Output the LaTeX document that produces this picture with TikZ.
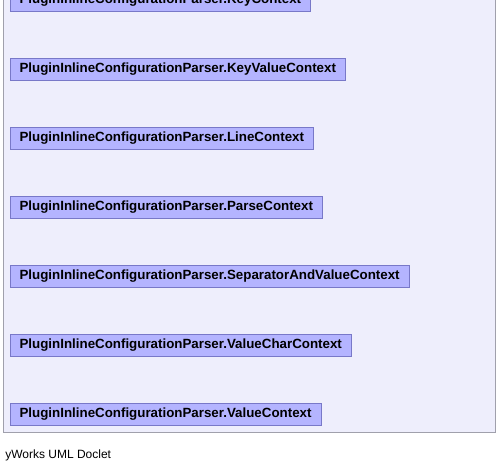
\documentclass[tikz,border=0pt]{standalone}
\usepackage{fontspec}
\setmainfont{Liberation Sans}
\usepackage{tikz}
\usetikzlibrary{calc}

\definecolor{panelfill}{RGB}{238,238,252}
\definecolor{panelline}{RGB}{160,160,172}
\definecolor{boxfill}{RGB}{180,180,255}
\definecolor{boxline}{RGB}{120,120,200}

\tikzset{
 classbox/.style={draw=boxline, fill=boxfill, anchor=west, minimum height=16.5pt,
   inner xsep=7pt, inner ysep=0pt, font=\fontsize{10}{11}\selectfont\bfseries},
}

\begin{document}
\begin{tikzpicture} [x=0.75pt, y=-0.75pt]
\useasboundingbox (0,0) rectangle (498,470);
\clip (0,0) rectangle (498,470);
\draw[panelline, fill=panelfill] (3,-20) rectangle (495,432);
\foreach \cls [count=\i from 0] in {KeyContext,KeyValueContext,LineContext,ParseContext,SeparatorAndValueContext,ValueCharContext,ValueContext} {
 \node[classbox] (c\i) at (10,69*\i) {PluginInlineConfigurationParser.\cls};
}
\node[anchor=base west, inner xsep=0pt, font=\fontsize{9}{10}\selectfont] (footer) at (5,458) {yWorks UML Doclet};
\end{tikzpicture}
\end{document}
